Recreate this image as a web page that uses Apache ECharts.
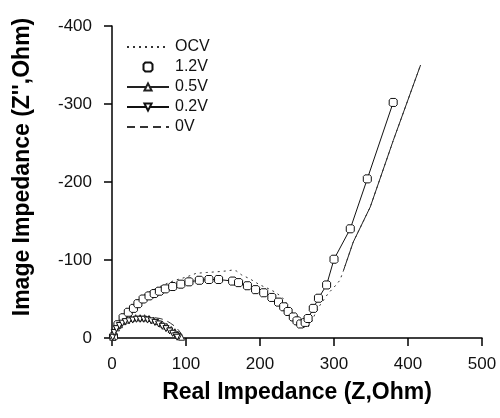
<!DOCTYPE html>
<html>
<head>
<meta charset="utf-8">
<script src="https://cdn.jsdelivr.net/npm/echarts@6/dist/echarts.min.js"></script>
<style>
  html, body {margin: 0; padding: 0; background: #fff;}
  #chart {width: 500px; height: 418px;}
</style>
</head>
<body>
<div id="chart"></div>
<script>
// real part (Z, Ohm) and imaginary part (Z'', Ohm) for every bias
var ocvX = [1, 5, 10, 16, 23, 31, 40, 50, 60, 72, 85, 100, 114, 128, 143, 155, 162, 168, 175, 186, 200, 212, 220, 229, 236, 241, 247, 251, 256, 261, 265, 270, 274, 281, 292, 300, 308, 313, 326, 349, 380, 417];
var ocvY = [-1, -12, -22, -31, -39, -46, -53, -59, -64, -69, -74, -78, -83, -84, -85, -86, -87, -86, -81, -76, -68, -63, -59, -53, -45, -34, -29, -23, -16, -13, -14, -21, -30, -42, -57, -65, -74, -87, -123, -168, -253, -350];
var ocvTailFrom = 37; // solid part of the OCV tail starts here

var v12X = [2, 8, 15, 22, 29, 35, 42, 50, 57, 64, 72, 82, 93, 104, 118, 131, 144, 163, 171, 183, 194, 205, 216, 225, 232, 238, 245, 250, 255, 261, 265, 272, 279, 290, 300, 322, 345, 380];
var v12Y = [-2, -17, -26, -33, -38, -44, -50, -54, -57, -60, -63, -66, -69, -72, -74, -75, -75, -73, -71, -67, -62, -58, -52, -46, -40, -34, -27, -22, -18, -20, -25, -38, -51, -68, -101, -140, -204, -302];

var v05X = [1, 3, 6, 10, 15, 20, 26, 32, 38, 44, 50, 56, 62, 68, 74, 80, 85, 89, 92, 94];
var v05Y = [-1, -8, -13, -17, -21, -23, -25, -26, -26, -26, -25, -23, -21, -18, -15, -11, -8, -5, -3, -1];

var v02X = [1, 3, 6, 10, 14, 18, 23, 28, 33, 38, 43, 48, 53, 58, 63, 68, 73, 78, 82, 86, 88];
var v02Y = [-1, -7, -12, -16, -19, -21, -22, -23, -24, -24, -24, -23, -22, -20, -18, -15, -12, -9, -6, -3, -1];

var v0X = [1, 4, 8, 13, 18, 24, 30, 37, 44, 51, 58, 65, 72, 79, 85, 90, 94, 96];
var v0Y = [-1, -9, -15, -20, -23, -25, -26, -27, -27, -27, -26, -25, -23, -19, -15, -10, -5, -1];

var xTicks = [0, 500, 100];
var yTicks = [-400, 0, 100];

function pairs(xs, ys) {
  return xs.map(function (x, i) { return [x, ys[i]]; });
}

var octagon = 'path://M2,0 L8,0 L10,2 L10,8 L8,10 L2,10 L0,8 L0,2 Z';
var font = 'Liberation Sans, Arial, sans-serif';

var chart = echarts.init(document.getElementById('chart'));
var option = {
  backgroundColor: '#fff',
  animation: false,
  grid: {left: 112, top: 26, right: 18, bottom: 80},
  legend: {
    orient: 'vertical',
    left: 121,
    top: 34,
    itemWidth: 42,
    itemHeight: 9,
    itemGap: 4,
    textStyle: {color: '#111', fontSize: 16, fontFamily: font, padding: [0, 0, 0, 1]},
    data: [
      {name: 'OCV', itemStyle: {opacity: 0}},
      {name: '1.2V', icon: octagon},
      {name: '0.5V'},
      {name: '0.2V'},
      {name: '0V', itemStyle: {opacity: 0}}
    ]
  },
  xAxis: {
    type: 'value',
    min: xTicks[0], max: xTicks[1], interval: xTicks[2],
    name: 'Real Impedance (Z,Ohm)',
    nameLocation: 'middle',
    nameGap: 43,
    nameTextStyle: {color: '#000', fontSize: 23, fontWeight: 'bold', fontFamily: font},
    axisLine: {lineStyle: {color: '#000', width: 1.5}},
    axisTick: {length: 8, lineStyle: {color: '#000', width: 1.5}},
    axisLabel: {color: '#111', fontSize: 17, margin: 18, fontFamily: font},
    splitLine: {show: false}
  },
  yAxis: {
    type: 'value',
    inverse: true,
    min: yTicks[0], max: yTicks[1], interval: yTicks[2],
    name: "Image Impedance (Z'',Ohm)",
    nameLocation: 'middle',
    nameGap: 78,
    nameTextStyle: {color: '#000', fontSize: 23, fontWeight: 'bold', fontFamily: font, padding: [0, 0, 0, 30]},
    axisLine: {lineStyle: {color: '#000', width: 1.5}},
    axisTick: {length: 8, lineStyle: {color: '#000', width: 1.5}},
    axisLabel: {color: '#111', fontSize: 17, margin: 20, fontFamily: font},
    splitLine: {show: false}
  },
  series: [
    {
      name: 'OCV',
      type: 'line',
      data: pairs(ocvX, ocvY),
      symbol: 'none',
      lineStyle: {color: '#333', width: 1, type: [2, 4]},
      itemStyle: {color: '#333'}
    },
    {
      name: 'OCV tail',
      type: 'line',
      data: pairs(ocvX.slice(ocvTailFrom), ocvY.slice(ocvTailFrom)),
      symbol: 'none',
      lineStyle: {color: '#222', width: 1},
      z: 1
    },
    {
      name: '1.2V',
      type: 'line',
      data: pairs(v12X, v12Y),
      symbol: octagon,
      symbolSize: 8,
      lineStyle: {color: '#111', width: 1},
      itemStyle: {color: '#fff', borderColor: '#111', borderWidth: 1}
    },
    {
      name: '0.5V',
      type: 'line',
      data: pairs(v05X, v05Y),
      symbol: 'triangle',
      symbolSize: 6,
      lineStyle: {color: '#222', width: 1.2},
      itemStyle: {color: '#fff', borderColor: '#222', borderWidth: 1}
    },
    {
      name: '0.2V',
      type: 'line',
      data: pairs(v02X, v02Y),
      symbol: 'triangle',
      symbolRotate: 180,
      symbolSize: 6,
      lineStyle: {color: '#111', width: 1.5},
      itemStyle: {color: '#fff', borderColor: '#111', borderWidth: 1}
    },
    {
      name: '0V',
      type: 'line',
      data: pairs(v0X, v0Y),
      symbol: 'none',
      lineStyle: {color: '#333', width: 1, type: [8, 5]},
      itemStyle: {color: '#333'}
    }
  ]
};
chart.setOption(option);
</script>
</body>
</html>
